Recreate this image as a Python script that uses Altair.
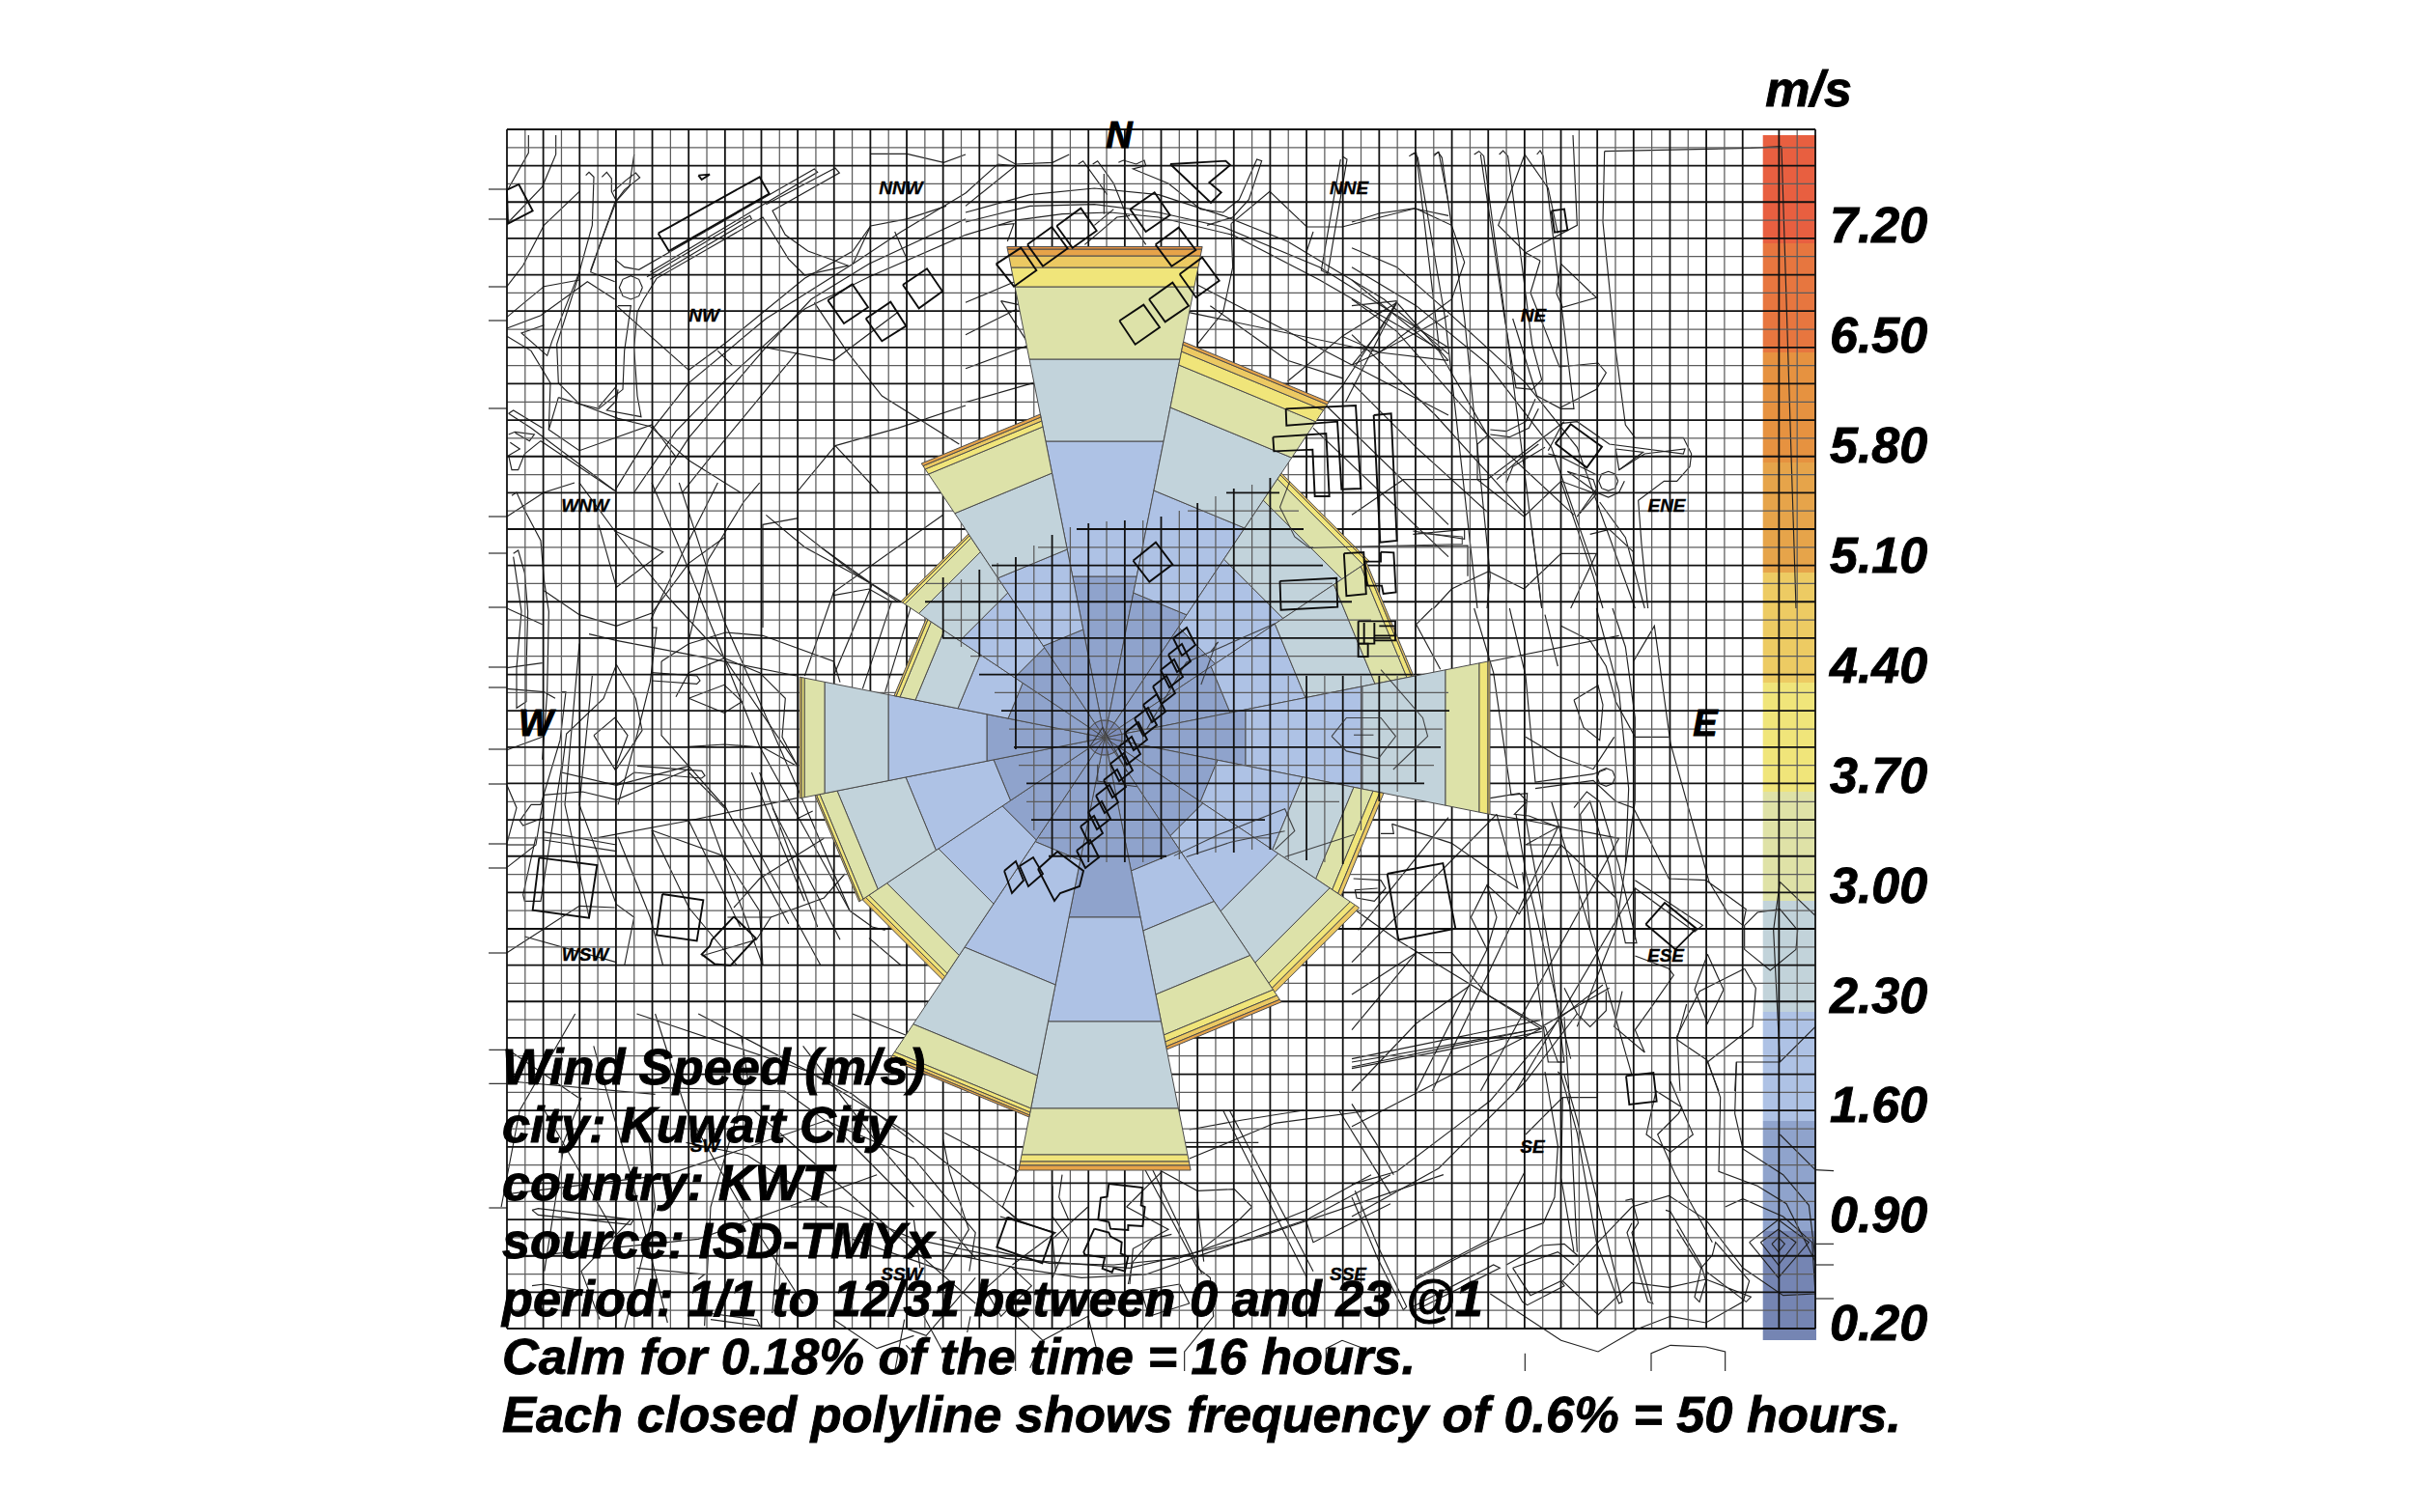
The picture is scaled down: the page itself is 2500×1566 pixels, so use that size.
import math
import altair as alt
import pandas as pd

# ---------- wind rose: band outer limits per direction (clockwise from N) ----------
DIRECTIONS = ["N","NNE","NE","ENE","E","ESE","SE","SSE","S","SSW","SW","WSW","W","WNW","NW","NNW"]
BAND_LIMITS = {
 "N":  [18,167,307,392,467,487,499,506,508.5],
 "NNE":[18,150,256,342,386,400,407,410],
 "NE": [18,135,218,290,316,321,323],
 "ENE":[18,130,208,280,313,318,320],
 "E":  [18,146,267,353,388,397,399],
 "ESE":[18,117,205,258,278,285,289],
 "SE": [18,120,212,275,300,306,311],
 "SSE":[18,138,200,266,308,315,320,323],
 "S":  [18,186,294,384,432,439,443,448],
 "SSW":[18,127,256,350,384,388,391,393],
 "SW": [18,125,203,266,288,292,296],
 "WSW":[18,115,206,277,295,298.5,300],
 "W":  [18,122,224,290,311,314,316],
 "WNW":[18,100,152,196,212,216,218],
 "NW": [18,110,177,227,244,247,249],
 "NNW":[18,112,195,274,322,328,332,335],
}
BAND_COLORS = ["#7e8fbd","#8fa3cc","#aec2e5","#c2d3db","#dde2a9","#f0e57a","#ecc962","#e7a349","#e69140"]
CENTER = (1144, 764)

# ---------- legend ----------
LEGEND_LABELS = ["7.20","6.50","5.80","5.10","4.40","3.70","3.00","2.30","1.60","0.90","0.20"]
LEGEND_COLORS = ["#e85f40","#e7763f","#e69240","#e6a44a","#edcb63","#f0e57a","#dfe2a7","#c2d3da","#aec2e5","#8fa3cc","#7585b3"]
LEGEND_EDGES = [140,252,365,479,593,707,820,933,1048,1161,1275,1388]
LEGEND_LABEL_Y = [235,349,463,577,691,805,919,1033,1146,1260,1372]

INFO_LINES = ["Wind Speed (m/s)","city: Kuwait City","country: KWT","source: ISD-TMYx",
              "period: 1/1 to 12/31 between 0 and 23 @1","Calm for 0.18% of the time = 16 hours.",
              "Each closed polyline shows frequency of 0.6% = 50 hours."]
INFO_Y = [1107,1167,1227,1287,1347,1407,1467]
COMPASS_BIG = [("N",1159,142),("W",555,751),("E",1766,751)]
COMPASS_SMALL = [("NNW",933,195),("NW",729,327),("NNE",1397,195),("NE",1588,327),("ENE",1726,524),("ESE",1725,990),
                 ("SE",1587,1188),("SSE",1396,1320),("SSW",934,1320),("SW",730,1187),("WSW",606,989),("WNW",606,524)]

# ---------- overlay grid extents over the rose ----------
OVER_V = {24:(598,661),25:(600,670),26:(590,680),27:(583,690),28:(577,776),29:(565,860),30:(554,887),31:(546,890),32:(542,893),
          33:(540,893),34:(539,893),35:(539,893),36:(535,890),37:(529,890),38:(521,885),39:(514,883),40:(506,883),41:(502,880),
          42:(495,880),43:(700,890),44:(700,891),45:(700,893),46:(700,895),47:(700,860),48:(700,830),49:(700,820),50:(700,810)}
OVER_H = {20:(1270,1325),21:(1230,1345),22:(1115,1350),23:(1075,1360),24:(1027,1370),25:(959,1380),26:(958,1400),27:(976,1420),
          28:(976,1440),29:(1005,1450),30:(1014,1463),31:(1030,1500),32:(1037,1501),33:(1045,1494),34:(1050,1492),35:(1055,1485),
          36:(1063,1475),37:(1063,1387),38:(1068,1310),39:(1076,1316),40:(1086,1208)}

# ---------- map. tile = (x origin, y origin, x scale, y scale) ----------
T5=(500,110,3,3); T6=(1000,110,3,3); T7=(1400,130,3,3); T8=(1400,630,3,3); T9=(1400,1020,3,3); T10=(500,500,3,3)
T12=(920,1150,3,3); T4=(500,1050,1.568,3); Z1=(800,200,1.96,2.613); Z2=(800,700,1.96,2.613); PX=(0,0,1,1)

ROADS = [
 (T5,[
  [(142,90),(142,145),(80,255)],[(227,90),(227,150),(185,250),(80,360)],[(300,265),(190,370),(125,495),(75,560)],
  [(470,150),(455,250),(410,300),(335,510)],[(320,215),(330,205),(345,220),(340,370),(300,515),(215,730),(200,775),(120,705),(190,680)],
  [(370,220),(385,205),(400,225),(400,265),(415,295),(375,400),(335,515),(410,545)],[(405,265),(445,230),(475,207),(488,222),(440,260),(410,300)],
  [(496,563),(485,590),(460,600),(435,590),(424,563),(435,538),(460,527),(485,538),(496,563)],
  [(410,475),(440,500),(485,508),(1030,195),(1040,205),(520,515)],
  [(880,305),(1095,192),(1108,207),(900,325),(940,400),(1010,450),(1135,495),(1000,525),(950,475),(870,345),(540,535),(500,600),(480,640),(470,750),(480,900),(492,965),(385,945),(415,915),(420,880)],
  [(510,530),(830,340),(835,350),(520,538)],[(1205,148),(1318,148),(1432,175),(1500,150)],[(75,655),(190,560),(300,540)],
  [(75,690),(180,650),(325,545),(410,600)],[(420,620),(460,620),(440,760),(435,880),(360,940),(300,925),(235,860),(230,740),(300,520)],
  [(415,640),(415,870),(360,935)],[(235,905),(205,1005),(300,1070),(525,990),(600,1090)],[(235,905),(300,925),(420,970),(520,995),(640,1100),(800,1200)],
  [(75,715),(150,760),(210,860),(205,1005)],[(80,955),(95,945),(185,1000)],[(80,1020),(100,1012),(160,1020),(145,1040),(100,1015)],
  [(85,1045),(115,1065),(80,1085),(90,1130),(110,1130),(130,1080),(180,1040),(410,1195)],[(80,955),(150,1000),(410,1195)],
  [(410,1195),(530,1000),(640,860),(880,660),(1150,490),(1300,390),(1500,270)],[(470,1200),(600,1010),(755,850),(1000,630),(1200,530),(1500,400)],
  [(530,1200),(640,1030),(870,760),(1020,600),(1200,490),(1500,350)],[(620,1200),(700,1100),(980,760)],
  [(640,820),(755,735),(1000,535),(1150,450),(1205,372),(1320,350),(1440,310)],[(1205,372),(1150,490)],[(1280,390),(1320,480)],
  [(975,1200),(1095,1055),(1230,1200)],[(880,750),(1090,790),(1290,640)],[(1030,610),(1130,760),(1240,900),(1480,1050)],
  [(1095,1055),(1290,1000),(1500,930)],[(415,620),(640,820)],[(730,760),(775,805)],
 ]),
 (T10,[
  [(75,105),(190,30),(285,0)],[(90,40),(105,30),(130,85),(180,180),(190,300),(205,400),(200,650),(185,860)],
  [(95,220),(110,210),(130,280),(140,400),(135,580),(135,680),(105,700),(105,575),(120,400),(95,230)],
  [(190,335),(300,410),(415,445),(525,405),(640,250),(750,170)],[(75,390),(185,440)],[(330,470),(415,490),(700,545),(975,600)],
  [(75,575),(185,560)],[(75,640),(190,650),(225,670)],[(555,555),(640,500),(755,465),(870,475),(1090,555),(1110,620)],
  [(525,450),(540,450),(520,620),(480,780),(420,1000)],[(415,565),(375,670),(260,780),(245,900),(415,940),(640,880)],
  [(415,565),(475,670),(495,770),(415,890)],[(345,785),(410,730),(450,785),(410,890),(345,785)],[(640,670),(750,628),(805,680),(750,715),(640,670)],
  [(600,665),(640,590),(750,545),(860,590),(940,670),(930,790),(975,875)],[(555,555),(555,785),(750,1005)],[(640,820),(750,813),(870,822),(975,880)],
  [(245,650),(258,650),(240,800),(180,1000),(150,1000)],[(75,1125),(160,1125)],[(75,1195),(165,1125),(190,970),(310,960),(415,985),(640,890)],
  [(190,1085),(415,1125)],[(190,1110),(415,1145)],[(345,1105),(640,1050),(975,980)],[(75,830),(185,790)],
  [(610,0),(750,430),(1000,1000)],[(525,0),(640,270),(860,820),(1140,1330)],[(300,0),(410,150),(580,360),(750,545),(975,875)],
  [(410,150),(560,215),(415,325),(360,130)],[(730,0),(620,220),(520,430)],[(860,0),(810,60),(700,240),(640,490)],[(980,110),(870,130),(870,450)],
  [(1050,200),(1210,315),(1300,370)],[(980,145),(1140,270),(1290,370)],[(880,100),(1000,200),(1210,315)],[(1090,350),(1200,330),(1270,370),(1180,640)],
  [(1430,100),(1090,340),(1000,600)],[(1210,315),(1090,600)],[(1350,320),(1250,650)],[(525,1080),(750,1160),(860,1330),(870,1500)],
  [(525,1080),(640,1320),(790,1500)],[(640,900),(750,1010)],[(835,900),(1000,1300)],[(800,560),(800,1040),(1050,1500)],[(705,560),(705,1050),(870,1500)],
  [(975,1045),(1025,1020)],[(1060,1105),(860,1230),(780,1320)],[(1125,1215),(1060,1290),(895,1350),(850,1420),(680,1470)],
  [(525,590),(665,600),(675,615),(665,625),(525,615)],[(480,880),(680,895),(690,910),(680,918),(470,900),(415,940)],
  [(245,880),(180,1300),(130,1300),(125,1280),(165,1100)],[(300,500),(255,1000),(330,1350)],[(340,600),(300,1000),(415,1310),(470,1350),(440,1500)],
  [(75,940),(105,1010),(75,1120)],[(190,1040),(125,1065),(115,1050),(150,1000)],[(130,1410),(415,1490)],[(75,1460),(300,1315),(410,1320)],
  [(760,1350),(895,1350)],[(1000,1000),(1140,1330),(1210,1380),(1250,1390)],[(1200,1415),(1300,1500)],
  [(860,900),(1040,1380)],[(900,1010),(1110,1420)],[(750,1000),(950,1370)],[(640,1050),(800,1380)],[(420,1100),(520,1350),(560,1500)],
 ]),
 (T6,[
  [(100,150),(155,180),(270,175),(322,150)],[(0,270),(100,180),(155,185),(0,310)],[(350,180),(365,170),(440,275)],
  [(395,180),(410,170),(460,240),(500,340),(560,430)],[(430,210),(430,335)],
  [(475,175),(490,168),(530,180),(555,168),(560,185),(520,195),(630,240),(730,320),(800,330),(850,290),(905,165),(920,170),(880,290),(830,345),(750,370)],
  [(0,330),(200,275),(400,255),(600,275),(800,340),(1000,420),(1300,600),(1500,770)],[(0,360),(200,310),(400,305),(600,330),(800,375),(1100,500),(1500,750)],
  [(0,400),(150,355),(300,335),(450,330),(600,345),(830,400),(1100,540),(1480,760)],[(510,340),(470,345),(370,430)],[(460,320),(400,370)],
  [(825,365),(945,265),(1060,375),(1170,375),(1395,318),(1500,340)],[(825,365),(830,500),(800,640),(720,740)],[(1080,390),(1060,450)],
  [(1170,155),(1185,165),(1125,520),(1105,510),(1165,165)],[(1385,150),(1400,145),(1470,740)],[(1455,150),(1470,143),(1500,300)],
  [(690,640),(1285,765),(1500,650)],[(1000,855),(1170,715),(1285,765),(1500,790)],[(1340,610),(1170,870),(1100,950)],[(1170,715),(1340,610),(1500,790)],
  [(1170,845),(1000,790),(760,620)],[(720,555),(1000,700),(1500,960)],[(0,610),(165,540)],[(0,710),(160,630)],[(0,815),(190,745)],[(0,920),(210,860)],
  [(100,370),(150,365),(130,420)],[(110,605),(190,730)],[(180,620),(110,605)],[(1080,1000),(1500,1400)],[(1120,930),(1500,1300)],[(1180,920),(1340,610)],
 ]),
 (T7,[
  [(178,95),(195,85),(205,100),(290,600),(390,1500)],[(255,95),(268,82),(280,100),(350,600),(430,1400),(420,1500)],[(380,90),(395,80),(410,95),(470,550),(590,1500)],
  [(458,90),(470,78),(485,95),(560,680),(590,790),(560,820),(510,815),(470,570),(400,90)],[(575,90),(585,78),(595,95),(690,880),(650,880),(575,840),(500,600)],
  [(687,30),(700,310),(540,395),(455,310),(537,90),(610,195),(640,335)],[(585,420),(540,395),(535,600)],[(650,430),(760,535),(655,565),(635,520),(650,430)],
  [(585,420),(555,520),(645,750),(765,738),(790,768),(760,820),(650,875)],[(0,300),(85,273),(197,257),(310,310),(350,425),(310,540),(85,705),(0,745)],
  [(140,545),(85,640),(0,745)],[(0,560),(140,545)],[(0,380),(140,440),(310,590),(540,800),(700,1000),(880,1500)],[(0,440),(200,560),(420,740),(620,1000),(760,1400)],
  [(0,480),(270,700),(420,960),(690,1210)],[(0,540),(140,640),(420,960)],[(0,650),(260,900),(540,1210)],[(0,800),(200,1000),(420,1200)],
  [(425,960),(390,990),(390,1100),(535,1215),(650,1105),(760,1145),(700,1215)],[(0,1210),(160,1100),(420,1100),(660,920)],[(430,945),(480,950),(540,920),(570,850)],
  [(430,960),(490,968),(550,940),(580,880)],[(610,1010),(655,925),(700,920),(800,990),(1030,1020),(1035,1005),(910,1020),(830,1070)],[(820,1005),(905,1015),(830,1070),(820,1005)],
  [(610,1020),(650,1030),(760,1085)],[(827,1105),(818,1127),(797,1135),(776,1127),(767,1105),(776,1083),(797,1075),(818,1083),(827,1105)],
  [(847,1105),(830,1140),(797,1155),(760,1140),(670,1075)],[(450,1100),(540,1020),(580,990)],[(480,1110),(500,1060),(600,1000)],[(670,1075),(750,1100),(760,1130),(700,1215)],
  [(190,1260),(350,1285),(350,1255),(190,1270)],[(0,1310),(360,1305),(360,1400)],[(425,1385),(535,1440),(650,1330),(760,1330),(680,1500)],[(255,1500),(310,1440),(425,1385)],
  [(560,1255),(590,1500)],[(740,1270),(800,1255),(875,1325)],[(770,1170),(850,1280),(910,1500)],[(650,1105),(750,1400),(780,1500)],
  [(785,80),(780,300),(820,700),(850,930),(880,970),(1030,970),(1055,1020),(1050,1060),(1010,1105),(970,1105),(890,1165),(900,1300),(920,1500)],
  [(785,80),(1240,70),(1335,65)],[(1335,65),(1380,1500)],
 ]),
 (T8,[
  [(200,50),(275,190)],[(250,0),(200,50)],[(380,0),(440,200),(495,580),(545,575),(540,650)],[(490,0),(540,210),(570,540),(750,515),(790,500)],
  [(600,20),(640,180)],[(650,55),(740,100),(790,180),(820,290),(880,400),(985,400)],[(690,285),(765,240),(780,300),(770,410),(720,370),(690,285)],
  [(540,400),(640,460),(750,500),(815,400)],[(818,525),(810,545),(790,553),(770,545),(762,525),(770,505),(790,497),(810,505),(818,525)],
  [(570,560),(750,535),(820,600),(875,620),(985,840),(1100,845),(1225,935),(1215,985),(1170,950),(1110,850),(990,420),(940,55),(875,165),(875,620)],
  [(810,0),(850,120),(880,340),(880,600),(820,1000),(700,1300)],[(690,620),(730,570),(770,600),(830,800),(885,1040),(850,1040),(800,800),(740,600),(710,640),(740,1000)],
  [(430,590),(520,575),(545,600),(505,640),(550,645),(640,680),(540,735),(650,735),(820,900)],[(430,640),(550,660),(830,715)],[(430,165),(830,85)],
  [(0,930),(140,1030),(420,1200),(590,1300),(800,1180)],[(0,1310),(200,1070),(310,1070),(420,1200),(585,1305)],[(0,1400),(585,1280)],[(0,1425),(585,1305)],
  [(370,960),(420,860),(450,960),(420,1060),(370,960)],[(420,860),(520,950),(650,735)],[(125,670),(310,730),(425,810),(515,870),(450,640)],
  [(20,1000),(300,650)],[(0,1100),(450,640)],[(250,1500),(640,680)],[(400,1500),(830,715)],[(510,1500),(880,870)],[(680,1400),(540,820),(510,640)],[(870,1450),(770,1100),(620,600)],
  [(880,845),(1090,985),(1065,1005),(880,870),(880,1030)],[(1105,1075),(1065,1185),(1105,1290),(1155,1185),(1105,1075)],[(1220,1120),(1080,1190),(1010,1330),(1020,1500)],
  [(1220,1120),(1255,1180),(1245,1300),(1105,1410),(1140,1500)],[(1190,1500),(1195,1410),(1330,1410),(1440,1300)],
  [(1220,985),(1260,945),(1330,935),(1385,1000),(1380,1060),(1300,1125),(1220,1060),(1220,985)],[(1330,850),(1310,1000),(1330,1410)],[(1330,850),(1440,955)],
  [(880,1080),(985,1120),(1000,1140),(930,1240),(880,1310),(910,1380),(815,1300),(840,1190)],[(660,1180),(700,1260),(740,1300),(790,1250),(790,1190)],
  [(5,840),(90,845),(105,870),(70,910),(15,900),(10,875),(80,870)],[(125,670),(130,700),(90,700)],
  [(540,650),(620,1100),(660,1410),(610,1410),(530,820)],[(760,0),(830,260),(860,560),(850,800)],[(200,1500),(420,1060)],[(0,1200),(200,1070)],
 ]),
 (T9,[
  [(640,270),(650,280),(700,460),(760,800),(830,990),(840,985),(770,700),(700,420),(660,280)],[(850,670),(870,665),(890,740),(870,770),(930,980),(935,990),(920,985),(855,770),(870,740)],
  [(975,700),(990,705),(1085,870),(1100,920),(1080,985),(1065,970),(1085,880),(1010,760)],
  [(1160,690),(1215,665),(1340,720),(1430,800),(1440,960),(1340,965),(1215,880),(1100,730),(985,655),(870,690),(765,800),(655,920),(765,1025),(870,925),(985,940),(1100,915),(1240,970),(1225,985),(1100,890)],
  [(540,465),(655,350),(765,350)],[(655,350),(650,600),(690,830)],[(535,585),(430,790),(200,910)],[(200,915),(425,800),(595,740),(630,660),(640,500),(600,270)],
  [(190,1000),(440,870),(460,880),(200,1010)],[(480,870),(590,810),(660,805),(700,840)],[(500,880),(640,830),(690,870)],[(480,895),(530,985),(545,995),(660,935),(650,920),(555,965),(500,880)],
  [(430,960),(650,1105),(765,1140),(885,1070),(990,1030),(1100,1050),(1215,985),(1235,920),(1130,800),(1120,840),(1085,880)],[(930,1200),(930,1145),(990,1120),(1100,1125),(1160,1140),(1160,1200)],
  [(538,1145),(538,1200)],[(1105,235),(1145,350),(1140,580),(1260,625),(1350,680),(1440,860)],[(1195,240),(1190,400),(1215,510),(1340,590),(1420,685),(1440,850)],[(1330,465),(1440,575)],
  [(990,300),(1060,465),(990,520),(915,465),(945,330),(1025,380),(1015,400),(950,465),(1005,590),(1120,800)],
  [(1235,800),(1325,730),(1420,800),(1325,910),(1235,800)],[(1270,800),(1325,760),(1380,800),(1325,870),(1270,800)],[(1305,805),(1325,785),(1345,805),(1325,830),(1305,805)],
  [(0,240),(90,225),(420,165),(590,135)],[(0,260),(590,145)],[(0,330),(200,120),(370,0)],[(0,440),(310,280),(600,130)],[(0,620),(140,580),(430,360),(650,100),(780,0)],
  [(0,720),(270,570),(540,300),(700,90)],[(80,500),(0,370)],[(80,500),(130,590)],[(0,660),(80,850),(160,1010),(170,1000),(80,810),(10,640)],
  [(1105,235),(1010,170),(1040,60)],[(1440,575),(1497,578)],[(1440,805),(1497,805)],[(1440,870),(1497,870)],[(1440,975),(1497,975)],
  [(600,130),(640,240),(660,240)],[(660,100),(680,420),(700,830)],
 ]),
 (T12,[
  [(160,400),(300,430),(500,475),(700,480),(900,460),(1100,390),(1300,310),(1500,200)],[(170,440),(400,490),(600,520),(800,510),(1000,440),(1300,340),(1560,200)],
  [(400,190),(355,300),(400,340)],[(510,235),(510,330),(560,400),(510,520)],[(540,200),(530,270),(560,340)],[(620,300),(510,400),(520,500)],[(380,485),(300,555),(350,640),(445,545),(380,485)],
  [(170,90),(190,190),(250,370),(175,495)],[(800,140),(975,510)],[(790,170),(960,490),(1000,520),(1010,640),(920,750),(920,810)],[(850,190),(960,250),(1075,245),(1130,300),(1090,340),(975,430)],
  [(960,250),(965,340),(980,470)],[(740,300),(850,190)],[(740,300),(870,370),(760,430),(750,540)],[(880,385),(820,400),(760,470),(745,540)],[(905,540),(935,600),(810,640),(785,560),(905,540)],
  [(400,640),(480,715),(620,640),(665,810)],[(395,810),(395,680)],[(110,640),(170,750)],[(255,640),(245,690)],[(1360,810),(1360,740),(1410,715),(1490,745)],
  [(1040,0),(1300,520)],[(1060,0),(1320,500)],[(1300,350),(1320,410),(1560,290)],[(1400,0),(1560,260)],[(935,60),(1100,30),(1290,0)],[(935,150),(1200,40),(1500,0)],
  [(50,650),(20,810)],[(55,730),(70,745)],[(480,715),(440,800)],[(920,100),(1150,100)],
 ]),
 (T4,[
  [(80,610),(90,605),(245,640),(240,655),(90,625),(80,610)],[(250,790),(360,810),(350,825)],[(80,845),(100,840),(160,860)],[(130,430),(100,800)],[(270,400),(280,600),(230,980)],
  [(420,70),(430,200),(370,600),(360,970)],[(290,230),(490,240),(555,330),(700,450),(800,680),(790,800)],[(500,600),(580,600),(700,700),(850,760),(1050,790),(1250,700),(1560,500)],
  [(600,0),(850,190)],[(250,0),(530,180),(690,370),(870,640)],[(350,0),(600,250),(700,400)],[(150,0),(60,300),(30,600)],[(160,260),(125,430)],[(45,210),(280,250)],[(40,110),(155,260)],
  [(10,603),(40,603)],[(10,112),(40,112)],[(10,217),(40,217)],[(370,950),(450,970),(445,950),(365,930)],[(690,980),(720,1000),(800,820)],[(570,950),(640,1040),(700,1000)],[(600,700),(750,800)],
  [(860,780),(930,680),(840,630)],[(750,370),(870,490)],[(700,640),(710,790)],[(560,330),(700,600)],[(240,640),(160,800),(190,950)],[(480,700),(470,930)],
  [(280,0),(330,300),(420,600),(520,900)],[(180,100),(240,500),(300,960)],[(520,100),(640,400),(800,760)],[(440,300),(620,600),(800,900)],[(100,300),(220,700)],
  [(40,560),(300,500),(560,330)],[(40,760),(350,700),(640,500)],[(330,400),(430,440),(560,600)],
 ]),
 (PX,[[(506,196),(525,196)],[(506,227),(525,227)],[(506,297),(525,297)],[(506,332),(525,332)],[(506,423),(525,423)],
      [(506,535),(525,535)],[(506,573),(525,573)],[(506,629),(525,629)],[(506,691),(525,691)],[(506,712),(525,712)],[(506,776),(525,776)],
      [(506,812),(525,812)],[(506,874),(525,874)],[(506,899),(525,899)],[(506,987),(525,987)]]),
]

ROADS_OVER = [
 (Z1,[[(1135,1470),(1165,1420),(1235,1420),(1265,1470),(1230,1530),(1165,1510),(1135,1470)],[(1235,1290),(1320,1420),(1330,1470),(1260,1560)],
      [(1050,780),(1030,850),(1060,930),(1090,960),(1400,950),(1400,930),(1310,920)],[(890,1240),(905,1215),(900,1220),(870,1330)],
      [(1020,1165),(840,1270),(760,1450)]]),
 (Z2,[[(815,487),(905,430),(1040,360),(1060,420),(1020,470)],[(840,490),(930,450),(1040,420)],[(1180,160),(1220,160)],[(1040,490),(1180,430)],
      [(640,200),(670,140),(720,260)],[(660,240),(660,285),(740,300)]]),
]

BUILDINGS = [
 (T5,[[(75,260),(112,243),(155,325),(78,365)],[(545,395),(860,220),(890,272),(578,450)],[(670,215),(705,212),(680,228)],[(1072,603),(1148,553),(1197,625),(1122,675)],
      [(1190,660),(1267,608),(1315,683),(1240,730)],[(1305,555),(1380,505),(1428,575),(1355,628)]]),
 (T6,[[(95,490),(172,440),(220,510),(150,560)],[(192,430),(268,375),(317,442),(240,497)],[(283,372),(358,317),(407,387),(332,440)],[(511,320),(587,268),(635,338),(560,390)],
      [(590,430),(662,377),(715,447),(640,497)],[(665,522),(735,470),(788,542),(716,594)],[(570,600),(643,548),(693,620),(620,670)],[(478,667),(553,617),(603,687),(527,740)],
      [(636,180),(808,170),(822,183),(757,237),(794,268),(762,300)],[(995,940),(1212,930),(1228,1188),(1168,1190),(1155,980),(997,992)],
      [(955,1028),(1120,1017),(1130,1212),(1085,1212),(1078,1067),(958,1072)]]),
 (T7,[[(68,900),(122,895),(140,1290),(88,1295)],[(90,1325),(130,1327),(137,1450),(98,1455),(93,1430),(48,1430),(40,1355),(90,1355)],[(620,265),(660,260),(670,325),(630,332)],
      [(632,988),(680,928),(777,998),(730,1063)]]),
 (T8,[[(20,40),(135,40),(135,100),(70,100),(70,110),(20,110)],[(20,110),(50,110),(50,150),(20,150)],[(38,45),(38,110)],[(70,45),(70,100)],[(85,55),(135,55)],[(70,85),(135,85)],
      [(110,825),(283,792),(322,995),(145,1030)],[(913,982),(972,915),(1070,995),(1005,1060)]]),
 (T9,[[(852,283),(937,273),(947,362),(862,372)]]),
 (Z1,[[(732,995),(778,945),(812,1005),(765,1052)],[(1030,1050),(1145,1042),(1147,1120),(1032,1128)],[(1160,975),(1200,972),(1205,1085),(1165,1090)]]),
 (T10,[[(175,1165),(355,1188),(330,1352),(155,1328)],[(558,1278),(685,1297),(665,1423),(540,1405)],[(780,1348),(848,1415),(770,1500),(720,1495),(680,1465),(705,1440),(712,1420)]]),
 (T12,[[(370,332),(512,380),(478,475),(337,425)],
       [(685,228),(790,240),(785,295),(797,300),(790,360),(745,357),(745,372),(690,368),(685,347),(652,340),(660,272),(680,268)],
       [(640,368),(685,380),(690,392),(725,410),(722,445),(745,455),(735,500),(700,490),(695,503),(665,492),(672,458),(610,448),(607,440)]]),
]
# centres of the small blocks that run diagonally through the middle of the rose
CHAIN_CENTRES = [(1226,665),(1221,682),(1213,698),(1205,715),(1195,734),(1186,748),(1176,763),(1169,778),(1161,795),(1154,812),(1146,828),(1138,845),(1130,860),(1126,885)]
CHAIN_SHAPE = [(-11,-4),(3,-15),(12,3),(-2,14)]
CHAIN_EXTRA = [(PX,[[(1040,902),(1052,892),(1060,912),(1048,925)],[(1056,897),(1070,888),(1080,905),(1065,918)],
                    [(1075,900),(1095,882),(1122,902),(1118,918),(1098,925),(1092,933)]])]


def tile_rows(tiles, closed, start=0):
    rows, n = [], start
    for (ox, oy, sx, sy), lines in tiles:
        for line in lines:
            pts = list(line) + ([line[0]] if closed else [])
            for i, (a, b) in enumerate(pts):
                rows.append({"id": n, "i": i, "x": ox + a / sx, "y": oy + b / sy})
            n += 1
    return rows, n


roads_df = pd.DataFrame(tile_rows(ROADS, False)[0])
roads_over_df = pd.DataFrame(tile_rows(ROADS_OVER, False)[0])
b_rows, nid = tile_rows(BUILDINGS, True)
chain = [(PX, [[(cx + a, cy + b) for a, b in CHAIN_SHAPE] for cx, cy in CHAIN_CENTRES])]
c_rows, nid = tile_rows(chain, True, nid)
e_rows, nid = tile_rows(CHAIN_EXTRA, True, nid)
buildings_df = pd.DataFrame(b_rows + c_rows + e_rows)

# rose bands
half = math.radians(11.25)
rose_rows, pid = [], 0
for d, name in enumerate(DIRECTIONS):
    th = math.radians(22.5 * d)
    ux, uy = math.sin(th), -math.cos(th)
    vx, vy = math.cos(th), math.sin(th)
    lims = [0] + BAND_LIMITS[name]
    for b in range(len(lims) - 1):
        r0, r1 = lims[b], lims[b + 1]
        t = math.tan(half)
        corners = [(r0, -1), (r1, -1), (r1, 1), (r0, 1), (r0, -1)]
        for i, (r, s) in enumerate(corners):
            rose_rows.append({"id": pid, "i": i, "c": BAND_COLORS[b],
                              "x": CENTER[0] + r * ux + s * r * t * vx,
                              "y": CENTER[1] + r * uy + s * r * t * vy})
        pid += 1
rose_df = pd.DataFrame(rose_rows)

# grid
GX0, GY0, GX1, GY1 = 525, 134, 1880, 1376
NX, NY = 72, 66
dx, dy = (GX1 - GX0) / NX, (GY1 - GY0) / NY
vrows = [{"x": GX0 + k * dx, "y": GY0, "y2": GY1, "major": k % 2 == 0} for k in range(NX + 1) if k != 69]
hrows = [{"y": GY0 + j * dy, "x": GX0, "x2": GX1, "major": j % 2 == 0} for j in range(NY + 1)]
ovrows = [{"x": GX0 + k * dx, "y": a, "y2": b, "major": k % 2 == 0} for k, (a, b) in OVER_V.items()]
ohrows = [{"y": GY0 + j * dy, "x": a, "x2": b, "major": j % 2 == 0} for j, (a, b) in OVER_H.items()]

legend_df = pd.DataFrame({"y": LEGEND_EDGES[:-1], "y2": LEGEND_EDGES[1:], "c": LEGEND_COLORS, "x": 1825.7, "x2": 1881})

X = alt.X("x:Q", scale=alt.Scale(domain=[8, 2492], nice=False, zero=False), axis=None)
Y = alt.Y("y:Q", scale=alt.Scale(domain=[1558, 8], nice=False, zero=False), axis=None)


def polylines(df, color, width, opacity=1.0):
    return alt.Chart(df).mark_line(color=color, strokeWidth=width, opacity=opacity, clip=False).encode(
        x=X, y=Y, detail="id:N", order="i:Q")


def grid_layers(v, h):
    out = []
    for major, col, w in ((False, "#5c5c5c", 1.25), (True, "#111111", 1.8)):
        vv = pd.DataFrame([r for r in v if r["major"] == major])
        hh = pd.DataFrame([r for r in h if r["major"] == major])
        out.append(alt.Chart(vv).mark_rule(color=col, strokeWidth=w).encode(x=X, y=Y, y2="y2:Q"))
        out.append(alt.Chart(hh).mark_rule(color=col, strokeWidth=w).encode(x=X, x2="x2:Q", y=Y))
    return out


legend = alt.Chart(legend_df).mark_rect().encode(x=X, x2="x2:Q", y=Y, y2="y2:Q", fill=alt.Fill("c:N", scale=None))
base_map = polylines(roads_df, "#222222", 1.15, 1.0)
rose = alt.Chart(rose_df).mark_line(stroke="#4c4c4c", strokeWidth=1.0, fill="#ffffff").encode(
    x=X, y=Y, detail="id:N", order="i:Q", fill=alt.Fill("c:N", scale=None))
over_map = polylines(roads_over_df, "#333333", 1.1, 0.9)
buildings = polylines(buildings_df, "#0c0c0c", 1.9)

FONT = dict(font="Liberation Sans", fontStyle="italic", fontWeight="bold", color="#000000", stroke="#000000")
info_t = alt.Chart(pd.DataFrame({"x": 520, "y": INFO_Y, "t": INFO_LINES})).mark_text(align="left", baseline="middle", fontSize=52.3, strokeWidth=0.9, **FONT).encode(x=X, y=Y, text="t:N")
ticks_t = alt.Chart(pd.DataFrame({"x": 1895, "y": LEGEND_LABEL_Y, "t": LEGEND_LABELS})).mark_text(align="left", baseline="middle", fontSize=52, strokeWidth=0.9, **FONT).encode(x=X, y=Y, text="t:N")
unit_t = alt.Chart(pd.DataFrame({"x": [1873], "y": [94], "t": ["m/s"]})).mark_text(align="center", baseline="middle", fontSize=52, strokeWidth=0.9, **FONT).encode(x=X, y=Y, text="t:N")
big = pd.DataFrame(COMPASS_BIG, columns=["t", "x", "y"])
small = pd.DataFrame(COMPASS_SMALL, columns=["t", "x", "y"])
big_t = alt.Chart(big).mark_text(align="center", baseline="middle", fontSize=38, strokeWidth=0.9, **FONT).encode(x=X, y=Y, text="t:N")
small_t = alt.Chart(small).mark_text(align="center", baseline="middle", fontSize=19, strokeWidth=0.3, **FONT).encode(x=X, y=Y, text="t:N")

layers = [legend, base_map] + grid_layers(vrows, hrows) + [rose] + grid_layers(ovrows, ohrows) + [over_map, buildings, info_t, ticks_t, unit_t, big_t, small_t]
chart = alt.layer(*layers).properties(width=2484, height=1550, padding=0).configure_view(stroke=None)
chart.save("out.html", embed_options={"renderer": "svg", "actions": False})
